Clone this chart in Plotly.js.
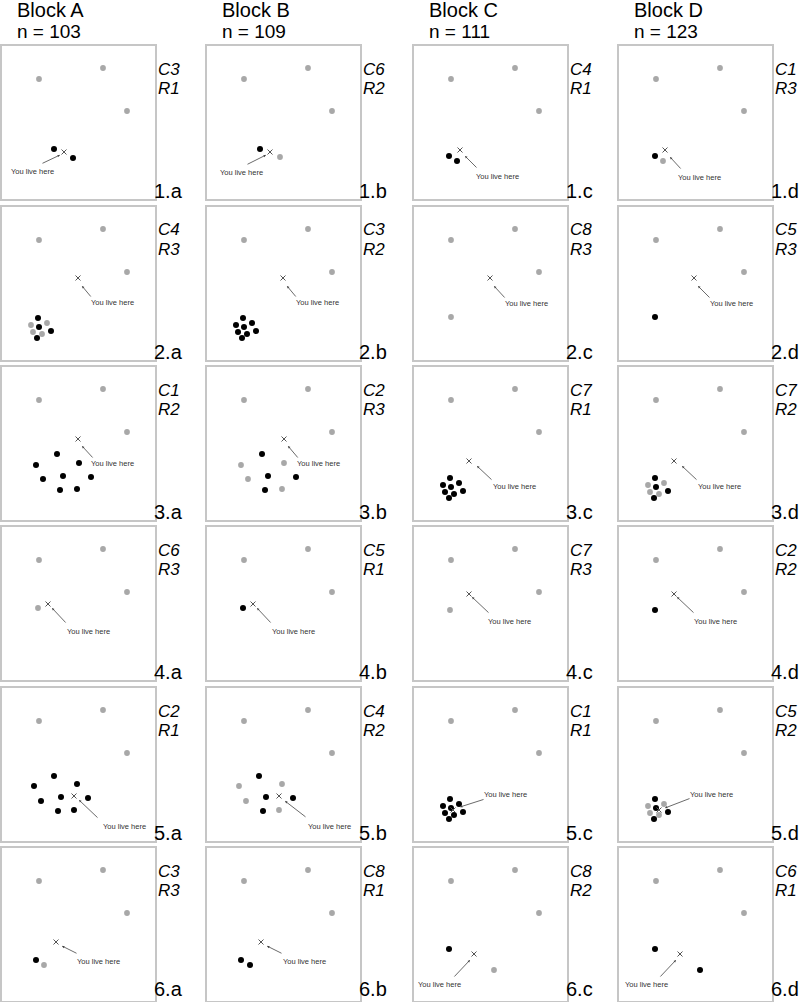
<!DOCTYPE html>
<html><head><meta charset="utf-8">
<script src="https://cdn.plot.ly/plotly-3.0.1.min.js"></script>
<style>html,body{margin:0;padding:0;background:#fff}#chart{width:800px;height:1002px}</style>
</head><body><div id="chart"></div>
<script>
// ---------- data (panels in row-major order: 1.a 1.b 1.c 1.d 2.a ...) ----------
const blockNames = ['Block A','Block B','Block C','Block D'];
const blockN = [103,109,111,123];
const panelIds = ['1.a','1.b','1.c','1.d','2.a','2.b','2.c','2.d','3.a','3.b','3.c','3.d',
                  '4.a','4.b','4.c','4.d','5.a','5.b','5.c','5.d','6.a','6.b','6.c','6.d'];
const condLabels = ['C3','C6','C4','C1','C4','C3','C8','C5','C1','C2','C7','C7',
                    'C6','C5','C7','C2','C2','C4','C1','C5','C3','C8','C8','C6'];
const roundLabels = ['R1','R2','R1','R3','R3','R2','R3','R3','R2','R3','R1','R2',
                     'R3','R1','R3','R2','R1','R2','R1','R2','R3','R1','R2','R1'];
const noteText = 'You live here';

// three reference (grey) points shared by every panel
const refX = [37, 101, 125];
const refY = [33, 22, 65];

// extra points per panel
const tightX = [36,29,45,37,49,31,40,35];
const tightY = [111,118,116,120,124,125,127,131];
const wideX  = [55,34,77,41,61,89,58,75];
const wideY  = [87,98,96,112,109,110,123,122];
const wide5X = [52,32,75,39,59,86,56,72];
const wide5Y = [88,98,96,113,109,110,123,122];
const mixT = ['k','g','g','k','k','g','g','k'];
const mixW = ['k','g','g','g','k','k','k','g'];
const allK = ['k','k','k','k','k','k','k','k'];

const dotX = [[52,71],[53,73],[35,43],[36,44],
              tightX,tightX,[37],[36],
              wideX,wideX,tightX,tightX,
              [36],[36],[36],[36],
              wide5X,wide5X,tightX,tightX,
              [34,42],[34,43],[35,80],[36,81]];
const dotY = [[103,112],[103,111],[110,115],[110,115],
              tightY,tightY,[110],[110],
              wideY,wideY,tightY,tightY,
              [81],[81],[83],[83],
              wide5Y,wide5Y,tightY,tightY,
              [112,117],[112,117],[101,122],[101,122]];
const dotColor = [['k','k'],['k','g'],['k','k'],['k','g'],
                  mixT,allK,['g'],['k'],
                  allK,mixW,allK,mixT,
                  ['g'],['k'],['g'],['k'],
                  allK,mixW,allK,mixT,
                  ['k','g'],['k','k'],['k','g'],['k','k']];

// "you live here" cross
const homeX = [62,63,46,46, 76,76,76,75, 76,77,55,55, 46,46,55,55, 72,72,39,40, 54,54,60,61];
const homeY = [106,106,104,104, 71,71,71,71, 72,72,94,94, 77,77,67,67, 108,108,122,122, 94,94,106,106];

// ---------- annotation placement ----------
const noteX = [30,35,84,80, 110,110,112,112, 110,111,100,100, 86,86,96,96, 122,122,92,92, 96,97,26,27];
const noteY = [125,126,130,131, 95,95,96,96, 96,96,119,119, 104,104,94,94, 138,138,106,106, 113,113,136,136];
const tailX = [39,39,64,63, 90,90,92,92, 92,92,79,79, 65,65,76,76, 97,100,71,72, 76,76,39,40];
const tailY = [118,119,123,124, 91,91,92,92, 92,92,114,114, 97,97,87,87, 131,130,111,110, 106,106,130,130];
const headX = [58,59,51,51, 80,80,80,79, 80,81,63,63, 50,50,58,58, 77,78,46,46, 60,60,56,57];
const headY = [109,109,110,111, 79,79,79,79, 79,79,99,99, 81,81,70,70, 112,113,119,120, 98,98,112,112];

// ---------- layout geometry ----------
const W = 800, H = 1002;
const colLeft = [2, 207, 414, 619];
const rowTop = [46, 207, 367, 527, 688, 848];
const idOffset = [145, 145, 145, 145, 145, 141];
const boxW = 153, boxH = 153;
const FONT = '"Liberation Sans", Arial, Helvetica, sans-serif';
const fx = p => p / W;
const fy = p => 1 - p / H;

const data = [];
const layout = {
  width: W, height: H,
  margin: {l: 0, r: 0, t: 0, b: 0},
  paper_bgcolor: '#ffffff', plot_bgcolor: '#ffffff',
  showlegend: false,
  font: {family: FONT, color: '#000'},
  annotations: []
};
const axisStyle = {
  showgrid: false, zeroline: false, showticklabels: false, ticks: '',
  showline: true, mirror: true, linecolor: '#c6c6c6', linewidth: 1.6,
  fixedrange: true
};

for (let c = 0; c < 4; c++) {
  layout.annotations.push({
    xref: 'paper', yref: 'paper', x: fx(colLeft[c] + 13), y: fy(10),
    xanchor: 'left', yanchor: 'middle', showarrow: false,
    text: blockNames[c], font: {family: FONT, size: 20, color: '#000'}
  });
  layout.annotations.push({
    xref: 'paper', yref: 'paper', x: fx(colLeft[c] + 13), y: fy(31),
    xanchor: 'left', yanchor: 'middle', showarrow: false,
    text: 'n = ' + blockN[c], font: {family: FONT, size: 19, color: '#000'}
  });
}

for (let i = 0; i < 24; i++) {
  const r = Math.floor(i / 4), c = i % 4;
  const n = i + 1;
  const sfx = n > 1 ? String(n) : '';
  const xa = 'x' + sfx, ya = 'y' + sfx;
  const L = colLeft[c], T = rowTop[r];
  layout['xaxis' + sfx] = Object.assign({domain: [fx(L), fx(L + boxW)], range: [0, boxW], anchor: ya}, axisStyle);
  layout['yaxis' + sfx] = Object.assign({domain: [fy(T + boxH), fy(T)], range: [boxH, 0], anchor: xa}, axisStyle);

  const gx = refX.slice(), gy = refY.slice(), bx = [], by = [];
  dotX[i].forEach((v, j) => {
    if (dotColor[i][j] === 'g') { gx.push(v); gy.push(dotY[i][j]); }
    else { bx.push(v); by.push(dotY[i][j]); }
  });
  data.push({type: 'scatter', mode: 'markers', x: gx, y: gy, xaxis: xa, yaxis: ya,
             marker: {color: '#a8a8a8', size: 5.8}, hoverinfo: 'skip'});
  data.push({type: 'scatter', mode: 'markers', x: bx, y: by, xaxis: xa, yaxis: ya,
             marker: {color: '#000000', size: 6}, hoverinfo: 'skip'});
  data.push({type: 'scatter', mode: 'markers', x: [homeX[i]], y: [homeY[i]], xaxis: xa, yaxis: ya,
             marker: {symbol: 'x-thin-open', size: 5, color: '#555', line: {width: 1, color: '#555'}},
             hoverinfo: 'skip'});

  layout.annotations.push({
    xref: xa, yref: ya, x: noteX[i], y: noteY[i], showarrow: false,
    text: noteText, font: {family: FONT, size: 7.5, color: '#333'},
    xanchor: 'center', yanchor: 'middle'
  });
  layout.annotations.push({
    xref: xa, yref: ya, axref: xa, ayref: ya,
    x: headX[i], y: headY[i], ax: tailX[i], ay: tailY[i],
    text: '', showarrow: true, arrowhead: 2, arrowsize: 0.6, arrowwidth: 0.8,
    arrowcolor: '#444', standoff: 0
  });
  layout.annotations.push({
    xref: 'paper', yref: 'paper', x: fx(L + boxW + 1), y: fy(T + 23),
    xanchor: 'left', yanchor: 'middle', showarrow: false,
    text: '<i>' + condLabels[i] + '</i>', font: {family: FONT, size: 17, color: '#000'}
  });
  layout.annotations.push({
    xref: 'paper', yref: 'paper', x: fx(L + boxW + 1), y: fy(T + 42.5),
    xanchor: 'left', yanchor: 'middle', showarrow: false,
    text: '<i>' + roundLabels[i] + '</i>', font: {family: FONT, size: 17, color: '#000'}
  });
  layout.annotations.push({
    xref: 'paper', yref: 'paper', x: fx(L + boxW - 1), y: fy(T + idOffset[r]),
    xanchor: 'left', yanchor: 'middle', showarrow: false,
    borderpad: 0, borderwidth: 0,
    text: panelIds[i], font: {family: FONT, size: 20, color: '#000'}
  });
}

Plotly.newPlot('chart', data, layout, {staticPlot: true, displayModeBar: false});
</script>
</body></html>
